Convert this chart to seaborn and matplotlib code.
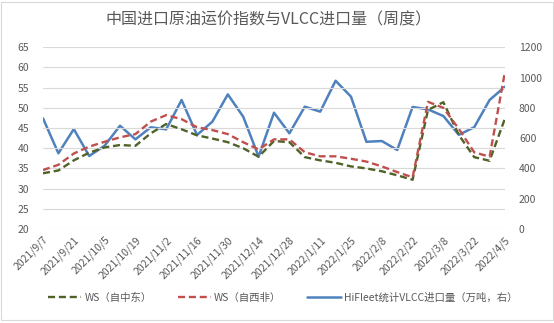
import matplotlib
matplotlib.use("Agg")
import matplotlib.pyplot as plt
import seaborn as sns
import pandas as pd
import numpy as np
from matplotlib.patches import Rectangle

dates = ["2021/9/7", "2021/9/14", "2021/9/21", "2021/9/28", "2021/10/5", "2021/10/12",
         "2021/10/19", "2021/10/26", "2021/11/2", "2021/11/9", "2021/11/16", "2021/11/23",
         "2021/11/30", "2021/12/7", "2021/12/14", "2021/12/21", "2021/12/28", "2022/1/4",
         "2022/1/11", "2022/1/18", "2022/1/25", "2022/2/1", "2022/2/8", "2022/2/15",
         "2022/2/22", "2022/3/1", "2022/3/8", "2022/3/15", "2022/3/22", "2022/3/29",
         "2022/4/5"]
ws_me = [33.8, 34.5, 37.0, 38.9, 40.2, 40.8, 40.6, 43.7, 46.0, 44.7, 43.2, 42.4, 41.5,
         40.0, 37.9, 41.8, 41.5, 37.8, 37.0, 36.4, 35.5, 35.0, 34.3, 33.3, 32.2, 49.5,
         51.4, 43.3, 37.8, 36.9, 47.4]
ws_wa = [34.6, 35.9, 38.7, 40.4, 41.6, 42.7, 43.5, 46.6, 48.2, 47.2, 45.2, 44.5, 43.5,
         41.5, 39.7, 42.2, 42.2, 39.0, 38.0, 38.0, 37.4, 36.7, 35.5, 34.1, 32.8, 51.5,
         50.0, 44.8, 39.0, 37.9, 59.0]
vlcc = [731, 500, 660, 482, 550, 682, 592, 672, 658, 852, 621, 709, 889, 742, 478, 768,
        632, 808, 775, 979, 874, 576, 581, 522, 806, 790, 746, 622, 672, 852, 940]

labels = ["WS（自中东）", "WS（自西非）", "HiFleet统计VLCC进口量（万吨，右）"]
title = "中国进口原油运价指数与VLCC进口量（周度）"

df = pd.DataFrame({"idx": np.arange(len(dates)), "me": ws_me, "wa": ws_wa, "vlcc": vlcc})

sns.set_style("white")
plt.rcParams["font.family"] = ["Noto Sans CJK SC", "DejaVu Sans"]

W, H = 554, 323
fig = plt.figure(figsize=(W / 100, H / 100), dpi=100)
ax = fig.add_axes([43 / W, 1 - 229 / H, (505 - 43) / W, (229 - 47.3) / H])
ax2 = ax.twinx()

green = "#4F6228"
red = "#C0504D"
blue = "#4F81BD"
txt = "#595959"

sns.lineplot(data=df, x="idx", y="me", ax=ax, color=green, lw=1.7,
             linestyle=(0, (3, 1.6)), label=labels[0], legend=False)
sns.lineplot(data=df, x="idx", y="wa", ax=ax, color=red, lw=1.7,
             linestyle=(0, (3, 1.6)), label=labels[1], legend=False)
sns.lineplot(data=df, x="idx", y="vlcc", ax=ax2, color=blue, lw=1.8,
             label=labels[2], legend=False)

ax.set_ylim(20, 65)
ax.set_yticks(np.arange(20, 66, 5))
ax2.set_ylim(0, 1200)
ax2.set_yticks(np.arange(0, 1201, 200))
ax.set_xlim(0, 30)
ax.set_xticks(np.arange(0, 31, 2))
ax.set_xticklabels(dates[::2], rotation=45, ha="right", rotation_mode="anchor")
ax.grid(axis="y", color="#D9D9D9", lw=0.8)
ax.set_axisbelow(True)
for a in (ax, ax2):
    for s in a.spines.values():
        s.set_visible(False)
    a.set_xlabel("")
    a.set_ylabel("")
    a.tick_params(length=0, labelsize=7.5, labelcolor=txt)
ax.tick_params(axis="y", pad=10)
ax.tick_params(axis="x", pad=4)
ax2.tick_params(axis="y", pad=10)
ax.set_zorder(ax2.get_zorder() + 1)
ax.patch.set_visible(False)

fig.text(0.485, 1 - 20 / H, title, ha="center", va="center", fontsize=11.5, color=txt)

h1, l1 = ax.get_legend_handles_labels()
h2, l2 = ax2.get_legend_handles_labels()
fig.legend(h1 + h2, l1 + l2, loc="center", bbox_to_anchor=(0.51, 1 - 298 / H), ncol=3,
           frameon=False, fontsize=7.5, labelcolor=txt, handlelength=3.2,
           columnspacing=2.5, handletextpad=0.3)

fig.patches.append(Rectangle((0.002, 0.01), 0.996, 0.985, transform=fig.transFigure,
                             fill=False, edgecolor="#D9D9D9", lw=0.8))

fig.savefig("out.png", dpi=100, facecolor="white")
